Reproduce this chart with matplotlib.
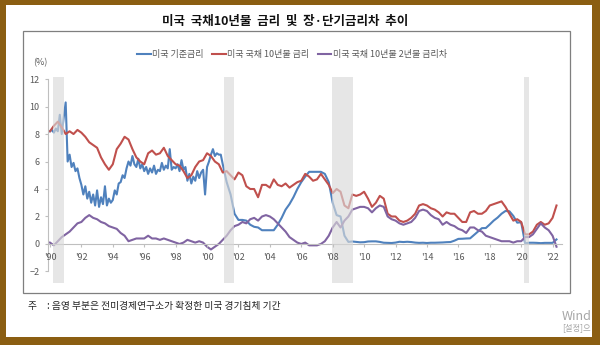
import matplotlib.pyplot as plt
from matplotlib.patches import Rectangle
import numpy as np

plt.rcParams['font.family'] = ['Noto Sans CJK KR', 'DejaVu Sans']

# quarterly grid for the 10y yield and the 10y-2y spread
q_years = np.arange(1990, 2022.5, 0.25)
treasury_10y = [
    8.2, 8.6, 8.9, 8.5,  8.0, 8.2, 8.0, 8.3,  8.1, 7.8, 7.4, 7.2,  7.0, 6.3, 5.8, 5.4,
    5.8, 6.9, 7.3, 7.8,  7.6, 6.9, 6.3, 6.0,  5.8, 6.6, 6.8, 6.5,  6.6, 7.0, 6.4, 6.1,
    5.8, 5.7, 5.3, 4.8,  5.0, 5.6, 6.0, 6.1,  6.6, 6.4, 6.0, 5.8,  5.2, 5.3, 5.0, 4.7,
    5.2, 5.0, 4.2, 4.0,  4.0, 3.4, 4.3, 4.3,  4.1, 4.7, 4.3, 4.2,  4.4, 4.1, 4.3, 4.5,
    4.6, 5.1, 4.9, 4.6,  4.7, 5.1, 4.7, 4.3,  3.7, 4.0, 3.8, 2.8,  2.6, 3.6, 3.5, 3.6,
    3.8, 3.3, 2.7, 3.0,  3.5, 3.3, 2.2, 2.0,  2.0, 1.7, 1.6, 1.7,  1.9, 2.2, 2.8, 2.9,
    2.8, 2.6, 2.5, 2.3,  2.0, 2.3, 2.2, 2.2,  1.9, 1.6, 1.6, 2.3,  2.4, 2.2, 2.2, 2.4,
    2.8, 2.9, 3.0, 3.1,  2.7, 2.2, 1.7, 1.8,  1.6, 0.7, 0.7, 0.9,  1.4, 1.6, 1.4, 1.5,
    1.9, 2.8,
]
spread_10y2y = [
    0.1, -0.1, 0.2, 0.5,  0.7, 0.9, 1.2, 1.5,  1.6, 1.9, 2.1, 1.9,  1.8, 1.6, 1.5, 1.3,
    1.2, 1.1, 0.8, 0.6,  0.2, 0.3, 0.4, 0.4,  0.4, 0.6, 0.4, 0.4,  0.3, 0.4, 0.3, 0.2,
    0.1, 0.0, 0.1, 0.3,  0.2, 0.1, 0.2, 0.1,  -0.2, -0.4, -0.2, 0.0,  0.3, 0.6, 1.0, 1.3,
    1.4, 1.6, 1.5, 1.8,  1.9, 1.7, 2.0, 2.1,  2.0, 1.8, 1.5, 1.2,  0.9, 0.5, 0.3, 0.1,
    0.0, 0.1, -0.1, -0.1,  -0.1, 0.0, 0.2, 0.6,  1.2, 1.6, 1.2, 1.7,  2.0, 2.5, 2.6, 2.7,
    2.7, 2.6, 2.3, 2.6,  2.8, 2.7, 2.0, 1.8,  1.7, 1.5, 1.4, 1.5,  1.6, 1.9, 2.4, 2.5,
    2.4, 2.1, 1.9, 1.8,  1.4, 1.6, 1.4, 1.3,  1.1, 1.0, 0.8, 1.2,  1.2, 1.0, 0.9, 0.6,
    0.5, 0.4, 0.3, 0.2,  0.2, 0.2, 0.1, 0.2,  0.2, 0.5, 0.5, 0.7,  1.1, 1.5, 1.2, 1.0,
    0.6, -0.2,
]

# policy rate: 8 readings a year while it is noisy (1990-2000), quarterly after
fed_years = np.concatenate([np.arange(1990, 2001, 0.125), np.arange(2001, 2022.5, 0.25)])
fed_rate = [
    8.2, 8.3, 8.1, 8.4, 8.2, 9.4, 8.0, 9.2,
    10.3, 6.0, 6.5, 5.6, 5.9, 5.3, 5.5, 4.8,
    4.3, 3.6, 4.2, 3.3, 3.8, 3.0, 3.6, 2.8,
    3.9, 2.7, 3.4, 2.9, 4.2, 2.8, 3.3, 3.0,
    3.2, 3.9, 3.6, 4.4, 4.5, 5.0, 4.8, 5.5,
    6.0, 5.7, 6.4, 5.8, 5.6, 6.2, 5.5, 5.8,
    5.3, 5.6, 5.1, 5.5, 5.2, 5.7, 5.1, 5.4,
    5.3, 5.9, 5.4, 5.7, 5.5, 6.9, 5.4, 5.6,
    5.5, 5.8, 5.3, 6.1, 5.4, 5.6, 4.6, 5.1,
    4.4, 4.9, 4.6, 5.3, 4.8, 5.2, 5.4, 3.6,
    5.6, 6.0, 6.5, 6.9, 6.4, 6.6, 6.5, 6.5,
    5.8, 4.5, 3.6, 2.2,  1.75, 1.75, 1.7, 1.4,  1.25, 1.2, 1.0, 1.0,  1.0, 1.0, 1.4, 1.9,
    2.5, 2.9, 3.4, 4.0,  4.5, 4.9, 5.25, 5.25,  5.25, 5.25, 5.1, 4.5,  3.0, 2.1, 2.0, 0.6,
    0.15, 0.18, 0.15, 0.12,  0.13, 0.18, 0.19, 0.19,  0.15, 0.09, 0.08, 0.07,  0.1, 0.16, 0.14, 0.16,
    0.14, 0.1, 0.08, 0.09,  0.07, 0.09, 0.09, 0.1,  0.11, 0.13, 0.14, 0.24,  0.37, 0.38, 0.4, 0.41,
    0.66, 0.91, 1.15, 1.16,  1.42, 1.7, 1.92, 2.2,  2.4, 2.38, 2.04, 1.55,  1.58, 0.05, 0.09, 0.09,
    0.08, 0.06, 0.08, 0.08,  0.08, 0.33,
]

recession_start = [1990.2, 2001.08, 2007.96, 2020.19]
recession_end = [1990.9, 2001.72, 2009.3, 2020.5]

tick_years = list(range(1990, 2023, 2))
tick_labels = ["'%02d" % (y % 100) for y in tick_years]

W, H = 600, 345
fig = plt.figure(figsize=(6, 3.45), dpi=100, facecolor='white')

# outer box
fig.patches.append(Rectangle((23 / W, 1 - 293 / H), 547 / W, 262 / H, transform=fig.transFigure,
                             fill=False, edgecolor='#7f7f7f', linewidth=0.9, zorder=-1))

ax = fig.add_axes([48.4 / W, 1 - 283 / H, 513.6 / W, 206 / H])
ax.patch.set_alpha(0)

ax.plot(fed_years, fed_rate, color='#4f81bd', lw=1.5, label='미국 기준금리')
ax.plot(q_years, treasury_10y, color='#c0504d', lw=1.5, label='미국 국채 10년물 금리')
ax.plot(q_years, spread_10y2y, color='#8064a2', lw=1.5, label='미국 국채 10년물 2년물 금리차')
for s, e in zip(recession_start, recession_end):
    ax.axvspan(s, e, color='#d9d9d9', alpha=0.65, lw=0, zorder=3)

ax.set_xlim(1989.9, 2022.6)
ax.set_ylim(-2.84, 12.15)
ax.set_yticks(range(-2, 13, 2))
ax.set_xticks(tick_years)
ax.set_xticklabels(tick_labels)
ax.xaxis.set_zorder(4)
for side in ['top', 'right']:
    ax.spines[side].set_visible(False)
ax.spines['left'].set_bounds(-2, 12)
ax.spines['left'].set_color('#bfbfbf')
ax.spines['bottom'].set_position(('data', 0))
ax.spines['bottom'].set_color('#bfbfbf')
ax.tick_params(colors='#bfbfbf', labelcolor='#595959', labelsize=6.5, length=2.5, width=0.8, pad=4)
ax.text(40 / W, 1 - 63 / H, '(%)', transform=fig.transFigure, ha='center', va='center',
        fontsize=6.5, color='#595959')

fig.legend(loc='center', bbox_to_anchor=(292 / W, 1 - 55 / H), ncol=3, frameon=False,
           fontsize=6.5, labelcolor='#595959', handlelength=1.5, handletextpad=0.2,
           columnspacing=0.9)

fig.text(285 / W, 1 - 21 / H, '미국  국채10년물  금리  및  장·단기금리차  추이', ha='center', va='center',
         fontsize=9, fontweight='bold', color='#111111')
fig.text(27 / W, 1 - 306 / H, '주', ha='left', va='center', fontsize=7, color='#222222')
fig.text(47 / W, 1 - 306 / H, ': 음영 부분은 전미경제연구소가 확정한 미국 경기침체 기간', ha='left',
         va='center', fontsize=7, color='#222222')
# the part of the screen watermark left visible inside the frame
fig.text(562 / W, 1 - 316 / H, 'Wind', ha='left', va='center', fontsize=9, color='#a6a6a6')
fig.text(562 / W, 1 - 328 / H, '[설정]으', ha='left', va='center', fontsize=6, color='#a6a6a6')

# brown frame
brown = '#8b5e12'
for x0, y0, w, h in [(0, 0, 6, H), (592, 0, 8, H), (0, 0, W, 5), (0, 337, W, 8)]:
    fig.patches.append(Rectangle((x0 / W, 1 - (y0 + h) / H), w / W, h / H, transform=fig.transFigure,
                                 facecolor=brown, edgecolor='none', zorder=10))

fig.savefig('out.png', dpi=100)
